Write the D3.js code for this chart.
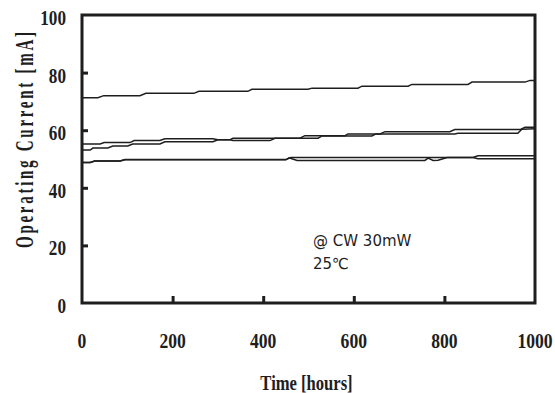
<!DOCTYPE html>
<html>
<head>
<meta charset="utf-8">
<script src="https://cdn.jsdelivr.net/npm/d3@7"></script>
<style>
  html, body { margin: 0; padding: 0; background: #fff; }
  svg { display: block; }
</style>
</head>
<body>
<svg id="chart" width="555" height="393"></svg>
<script>
// ---- data ----
const xTicks = [0, 200, 400, 600, 800, 1000];
const yTicks = [0, 20, 40, 60, 80, 100];

const s1Time  = [0, 35, 48, 128, 141, 247, 258, 366, 375, 499, 508, 609, 618, 720, 728, 852, 861, 978, 989, 1000];
const s1Value = [71.3, 71.3, 72.0, 72.0, 72.8, 72.8, 73.5, 73.5, 74.2, 74.2, 74.6, 74.6, 75.3, 75.3, 75.9, 75.9, 76.7, 76.7, 77.3, 77.3];

const s2Time  = [0, 40, 49, 106, 115, 172, 183, 289, 300, 327, 333, 481, 492, 581, 587, 658, 669, 812, 823, 967, 978, 1000];
const s2Value = [55.2, 55.2, 55.7, 55.7, 56.4, 56.4, 57.0, 57.0, 56.7, 56.7, 57.2, 57.2, 58.1, 58.1, 58.7, 58.7, 59.5, 59.5, 60.2, 60.2, 61.0, 61.0];

const s3Time  = [0, 18, 24, 57, 68, 101, 112, 172, 183, 289, 300, 327, 333, 415, 426, 521, 530, 640, 649, 823, 830, 962, 971, 1000];
const s3Value = [53.1, 53.1, 53.8, 53.8, 54.5, 54.5, 55.2, 55.2, 56.0, 56.0, 56.7, 56.7, 56.4, 56.4, 57.2, 57.2, 58.0, 58.0, 58.7, 58.7, 58.9, 58.9, 60.3, 60.5];

const s4Time  = [0, 18, 28, 84, 95, 450, 461, 863, 874, 1000];
const s4Value = [48.8, 48.8, 49.3, 49.3, 49.8, 49.8, 50.5, 50.5, 51.1, 51.1];

const s5Time  = [0, 18, 28, 84, 95, 450, 457, 465, 475, 757, 764, 775, 786, 806, 812, 863, 874, 1000];
const s5Value = [48.8, 48.8, 49.3, 49.3, 49.7, 49.7, 50.4, 50.0, 49.5, 49.5, 50.3, 49.5, 49.6, 50.5, 50.5, 50.5, 50.1, 50.1];

const seriesList = [
  [s1Time, s1Value], [s2Time, s2Value], [s3Time, s3Value], [s4Time, s4Value], [s5Time, s5Value]
];

const xTitle = "Time [hours]";
const yTitle = "Operating Current [mA]";
const note1 = "@ CW 30mW";
const note2 = "25℃";

// ---- layout ----
const svg = d3.select("#chart");
const L = 82, R = 535, T = 15, B = 303;
const x = d3.scaleLinear().domain([0, 1000]).range([L, R]);
const y = d3.scaleLinear().domain([0, 100]).range([B, T]);
const ink = "#1e1e1e";
const serif = "'Liberation Serif', 'Times New Roman', serif";

// data lines
const line = d3.line().x(d => x(d[0])).y(d => y(d[1]));
seriesList.forEach(([ts, vs]) => {
  svg.append("path")
    .datum(ts.map((t, i) => [t, vs[i]]))
    .attr("d", line)
    .attr("fill", "none")
    .attr("stroke", ink)
    .attr("stroke-width", 1.5);
});

// inward ticks via axes
svg.append("g")
  .attr("transform", `translate(${L},0)`)
  .call(d3.axisLeft(y).tickValues(yTicks.slice(1, -1)).tickSizeInner(-6).tickSizeOuter(0).tickFormat(""))
  .call(g => g.select(".domain").remove())
  .call(g => g.selectAll("line").attr("stroke", ink).attr("stroke-width", 3));
svg.append("g")
  .attr("transform", `translate(0,${B})`)
  .call(d3.axisBottom(x).tickValues(xTicks.slice(1, -1)).tickSizeInner(-7).tickSizeOuter(0).tickFormat(""))
  .call(g => g.select(".domain").remove())
  .call(g => g.selectAll("line").attr("stroke", ink).attr("stroke-width", 3));

// frame
svg.append("rect")
  .attr("x", L).attr("y", T).attr("width", R - L).attr("height", B - T)
  .attr("fill", "none").attr("stroke", ink).attr("stroke-width", 3);

// tick labels
svg.append("g").selectAll("text").data(yTicks).join("text")
  .attr("transform", d => `translate(66,${y(d) + 10}) scale(0.78,1)`)
  .attr("text-anchor", "end")
  .attr("font-family", serif).attr("font-weight", "bold").attr("font-size", 22)
  .attr("fill", ink)
  .text(d => d);
svg.append("g").selectAll("text").data(xTicks).join("text")
  .attr("transform", d => `translate(${x(d)},348) scale(0.8,1)`)
  .attr("text-anchor", "middle")
  .attr("font-family", serif).attr("font-weight", "bold").attr("font-size", 22)
  .attr("fill", ink)
  .text(d => d);

// axis titles
svg.append("text")
  .attr("transform", `translate(${(260 + 353) / 2},390) scale(0.83,1)`)
  .attr("text-anchor", "middle")
  .attr("font-family", serif).attr("font-weight", "bold").attr("font-size", 20)
  .attr("fill", ink)
  .text(xTitle);

const ySx = 0.58;
svg.append("text")
  .attr("transform", `translate(33,140) rotate(-90) scale(${ySx},1)`)
  .attr("text-anchor", "middle")
  .attr("font-family", serif).attr("font-weight", "bold").attr("font-size", 26)
  .attr("textLength", 216 / ySx).attr("lengthAdjust", "spacing")
  .attr("fill", ink)
  .text(yTitle);

// annotation
const sans = "'DejaVu Sans', Verdana, sans-serif";
svg.append("text").attr("x", 313).attr("y", 246)
  .attr("font-family", sans).attr("font-size", 15).attr("fill", ink).text(note1);
svg.append("text").attr("x", 313).attr("y", 269)
  .attr("font-family", sans).attr("font-size", 15).attr("fill", ink).text(note2);
</script>
</body>
</html>
